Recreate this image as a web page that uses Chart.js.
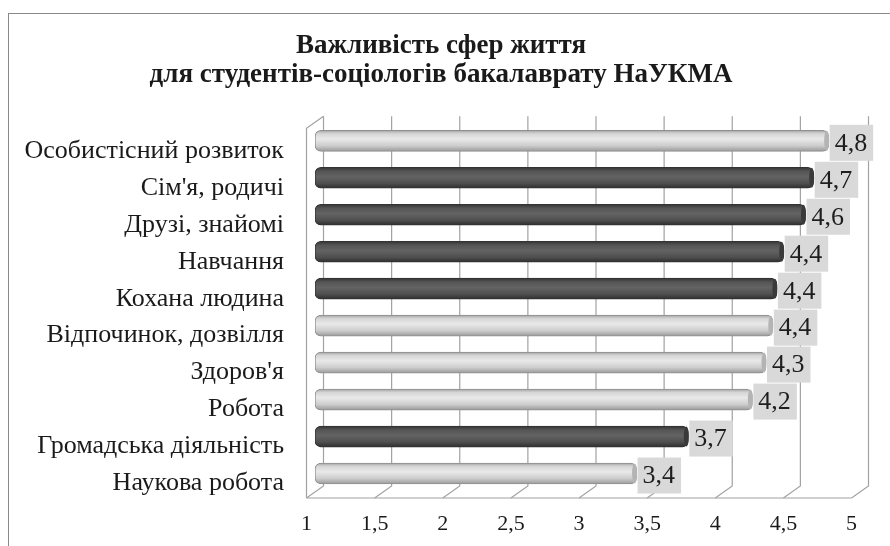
<!DOCTYPE html>
<html>
<head>
<meta charset="utf-8">
<script src="https://cdn.jsdelivr.net/npm/chart.js@4.4.1/dist/chart.umd.min.js"></script>
<style>
  body { margin: 0; background: #fff; }
  #wrap { position: relative; width: 890px; height: 546px; overflow: hidden; }
  #frame { position: absolute; left: 8px; top: 13px; width: 900px; height: 560px; border: 1.5px solid #8a8a8a; box-sizing: border-box; }
  #chart { position: absolute; left: 0; top: 0; }
</style>
</head>
<body>
<div id="wrap">
  <div id="frame"></div>
  <canvas id="chart" width="890" height="546"></canvas>
</div>
<script>
let categories = ['Особистісний розвиток', "Сім'я, родичі", 'Друзі, знайомі', 'Навчання', 'Кохана людина',
                  'Відпочинок, дозвілля', "Здоров'я", 'Робота', 'Громадська діяльність', 'Наукова робота'];
let values = [4.77, 4.66, 4.6, 4.44, 4.39, 4.36, 4.31, 4.21, 3.74, 3.36];
let shades = ['light', 'dark', 'dark', 'dark', 'dark', 'light', 'light', 'light', 'dark', 'light'];
let titleLines = ['Важливість сфер життя', 'для студентів-соціологів бакалаврату НаУКМА'];

const DX = 8.5, DY = 6;//depth offset of the 3d walls
const SERIF = "'Liberation Serif', 'Times New Roman', serif";

function barFill(ctx) {
    const chart = ctx.chart;
    const dark = shades[ctx.dataIndex] === 'dark';
    if (!chart.chartArea || !chart.scales.y) return dark ? '#555' : '#d0d0d0';
    const yc = chart.scales.y.getPixelForValue(ctx.dataIndex);
    const g = chart.ctx.createLinearGradient(0, yc - 11, 0, yc + 11);
    if (dark) {
        g.addColorStop(0, '#2e2e2e');
        g.addColorStop(0.2, '#555');
        g.addColorStop(0.45, '#636363');
        g.addColorStop(0.75, '#4f4f4f');
        g.addColorStop(1, '#2a2a2a');
    } else {
        g.addColorStop(0, '#9c9c9c');
        g.addColorStop(0.18, '#d6d6d6');
        g.addColorStop(0.42, '#e9e9e9');
        g.addColorStop(0.72, '#cdcdcd');
        g.addColorStop(1, '#959595');
    }
    return g;
}

// back wall grid lines, floor and left wall
const wallPlugin = {
    id: 'walls',
    beforeDatasetsDraw(chart) {
        const c = chart.ctx, a = chart.chartArea, xs = chart.scales.x;
        c.save();
        c.strokeStyle = '#a2a2a2';
        c.lineWidth = 1.2;
        xs.ticks.forEach(t => {
            const xm = xs.getPixelForValue(t.value);
            c.beginPath();
            c.moveTo(xm + DX, a.top - DY);
            c.lineTo(xm + DX, a.bottom - DY);
            c.lineTo(xm - DX, a.bottom + DY);
            c.stroke();
        });
        const x0 = xs.getPixelForValue(1), x1 = xs.getPixelForValue(5);
        c.beginPath();//floor front edge
        c.moveTo(x0 - DX, a.bottom + DY);
        c.lineTo(x1 - DX, a.bottom + DY);
        c.stroke();
        c.beginPath();//left wall front edge
        c.moveTo(x0 - DX, a.bottom + DY);
        c.lineTo(x0 - DX, a.top + DY);
        c.lineTo(x0 + DX, a.top - DY);
        c.stroke();
        c.restore();
    },
    afterDatasetsDraw(chart) {
        const c = chart.ctx;
        const meta = chart.getDatasetMeta(0);
        c.save();
        meta.data.forEach((bar, i) => {
            const dark = shades[i] === 'dark';
            // end cap of the cylinder
            c.beginPath();
            c.ellipse(bar.x - 2, bar.y, 2.5, 10, 0, 0, Math.PI * 2);
            c.fillStyle = dark ? '#3a3a3a' : '#b4b4b4';
            c.fill();
            // value box
            const txt = values[i].toFixed(1).replace('.', ',');
            c.font = '26px ' + SERIF;
            const w = c.measureText(txt).width + 11;
            c.fillStyle = '#d9d9d9';
            c.fillRect(bar.x + 1, bar.y - 16, w, 36);
            c.fillStyle = '#1e1e1e';
            c.textBaseline = 'middle';
            c.textAlign = 'left';
            c.fillText(txt, bar.x + 6, bar.y + 3);
        });
        c.restore();
    }
};

new Chart(document.getElementById('chart'), {
    type: 'bar',
    data: {
        labels: categories,
        datasets: [{
            data: values,
            base: 1,
            backgroundColor: barFill,
            borderColor: ctx => shades[ctx.dataIndex] === 'dark' ? '#333' : '#8f8f8f',
            borderWidth: 1,
            borderSkipped: false,
            borderRadius: 6,
            barThickness: 21
        }]
    },
    options: {
        indexAxis: 'y',
        responsive: false,
        animation: false,
        layout: { padding: { left: 22, right: 30, top: 0, bottom: 0 } },
        plugins: {
            legend: { display: false },
            tooltip: { enabled: false },
            title: {
                display: true,
                text: titleLines,
                color: '#1a1a1a',
                font: { family: SERIF, size: 27, weight: 'bold', lineHeight: 1.08 },
                padding: { top: 31, bottom: 33 }
            }
        },
        scales: {
            x: {
                min: 1,
                max: 5,
                grid: { display: false, drawTicks: false },
                border: { display: false },
                ticks: {
                    stepSize: 0.5,
                    color: '#1a1a1a',
                    font: { family: SERIF, size: 22 },
                    padding: 19,
                    labelOffset: -DX,
                    maxRotation: 0,
                    callback: v => String(v).replace('.', ',')
                },
                afterFit: s => { s.height = 54; }
            },
            y: {
                grid: { display: false, drawTicks: false },
                border: { display: false },
                ticks: {
                    color: '#1a1a1a',
                    font: { family: SERIF, size: 26 },
                    padding: 31,
                    labelOffset: 10
                },
                afterFit: s => { s.width = 293; }
            }
        }
    },
    plugins: [wallPlugin]
});
</script>
</body>
</html>
